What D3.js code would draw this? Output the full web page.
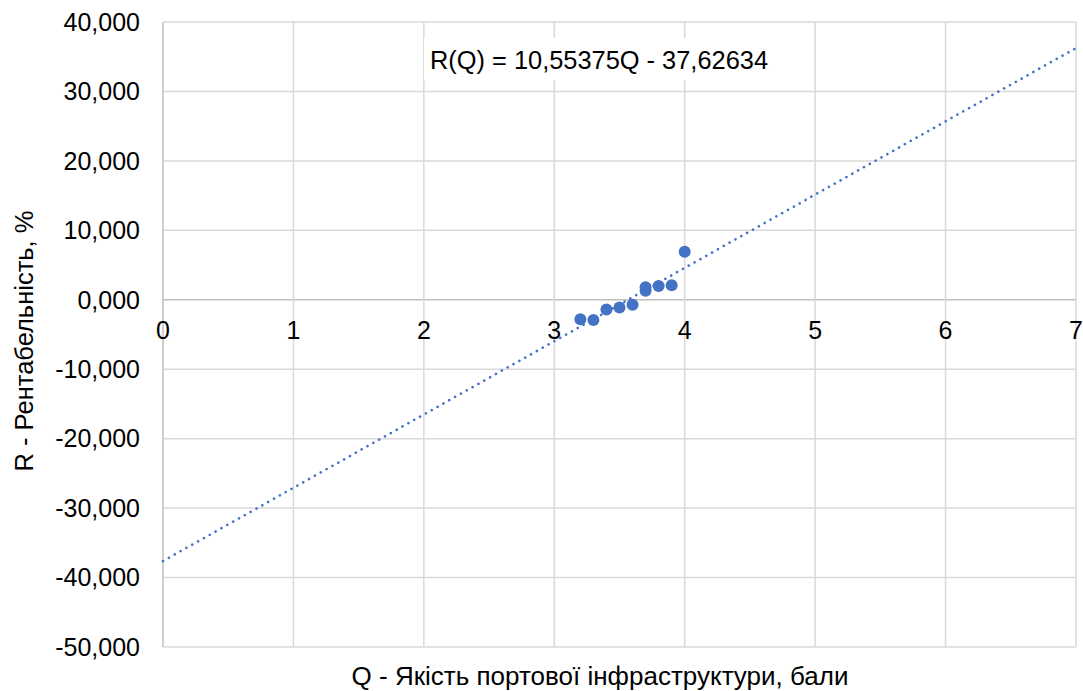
<!DOCTYPE html>
<html>
<head>
<meta charset="utf-8">
<script src="https://cdn.jsdelivr.net/npm/d3@7"></script>
<style>
  body { margin: 0; background: #fff; }
  text { font-family: "Liberation Sans", Arial, sans-serif; fill: #000; }
</style>
</head>
<body>
<svg width="1083" height="691"></svg>
<script>
const width = 1083;
const height = 691;

// observed points
const quality = [3.2, 3.3, 3.4, 3.5, 3.6, 3.7, 3.7, 3.8, 3.9, 4.0];
const profit = [-2.8, -2.9, -1.4, -1.1, -0.7, 1.3, 1.8, 2.0, 2.1, 6.9];

// trend line R(Q) = a*Q + b
const slope = 10.55375;
const intercept = -37.62634;
const trendQ = [0, 7];

const xTicks = [0, 1, 2, 3, 4, 5, 6, 7];
const yTicks = [40, 30, 20, 10, 0, -10, -20, -30, -40, -50];

const xTitle = "Q - Якість портової інфраструктури, бали";
const yTitle = "R - Рентабельність, %";
const equation = "R(Q) = 10,55375Q - 37,62634";

const svg = d3.select("svg");

const x = d3.scaleLinear().domain([0, 7]).range([163, 1076]);
const y = d3.scaleLinear().domain([-50, 40]).range([647, 22]);

// comma decimal, plain hyphen minus
const locale = d3.formatLocale({
  decimal: ",",
  thousands: " ",
  grouping: [3],
  currency: ["", ""],
  minus: "-",
});
const yLabel = locale.format(".3f");

// gridlines
const grid = svg.append("g");
grid.selectAll("line.h")
  .data(yTicks)
  .enter()
  .append("line")
  .attr("x1", x(0))
  .attr("x2", x(7))
  .attr("y1", (d) => y(d))
  .attr("y2", (d) => y(d))
  .attr("stroke", (d) => (d === 0 ? "#bfbfbf" : "#d9d9d9"))
  .attr("stroke-width", 1.5);

grid.selectAll("line.v")
  .data(xTicks)
  .enter()
  .append("line")
  .attr("x1", (d) => x(d))
  .attr("x2", (d) => x(d))
  .attr("y1", y(40))
  .attr("y2", y(-50))
  .attr("stroke", (d) => (d === 0 ? "#bfbfbf" : "#d9d9d9"))
  .attr("stroke-width", 1.5);

// y tick labels
svg.append("g")
  .selectAll("text")
  .data(yTicks)
  .enter()
  .append("text")
  .attr("x", 140)
  .attr("y", (d) => y(d))
  .attr("dy", "0.35em")
  .attr("text-anchor", "end")
  .attr("font-size", 25)
  .text(yLabel);

// x tick labels
svg.append("g")
  .selectAll("text")
  .data(xTicks)
  .enter()
  .append("text")
  .attr("x", (d) => x(d))
  .attr("y", 339)
  .attr("text-anchor", "middle")
  .attr("font-size", 25)
  .text((d) => d);

// trend line
const line = d3.line()
  .x((d) => x(d))
  .y((d) => y(slope * d + intercept));

svg.append("path")
  .datum(trendQ)
  .attr("d", line)
  .attr("fill", "none")
  .attr("stroke", "#4472c4")
  .attr("stroke-width", 2.6)
  .attr("stroke-linecap", "round")
  .attr("stroke-dasharray", "0.1 6.6");

// points
svg.append("g")
  .selectAll("circle")
  .data(quality.map((q, i) => ({ q, r: profit[i] })))
  .enter()
  .append("circle")
  .attr("cx", (d) => x(d.q))
  .attr("cy", (d) => y(d.r))
  .attr("r", 6)
  .attr("fill", "#4472c4");

// equation label
const eq = svg.append("g");
eq.append("rect")
  .attr("x", 424)
  .attr("y", 38)
  .attr("width", 350)
  .attr("height", 42)
  .attr("fill", "#fff");
eq.append("text")
  .attr("x", 599)
  .attr("y", 69)
  .attr("text-anchor", "middle")
  .attr("font-size", 25.4)
  .text(equation);

// axis titles
svg.append("text")
  .attr("x", 600)
  .attr("y", 685)
  .attr("text-anchor", "middle")
  .attr("font-size", 26)
  .text(xTitle);

svg.append("text")
  .attr("transform", "translate(33,341) rotate(-90)")
  .attr("text-anchor", "middle")
  .attr("font-size", 25.5)
  .text(yTitle);
</script>
</body>
</html>
